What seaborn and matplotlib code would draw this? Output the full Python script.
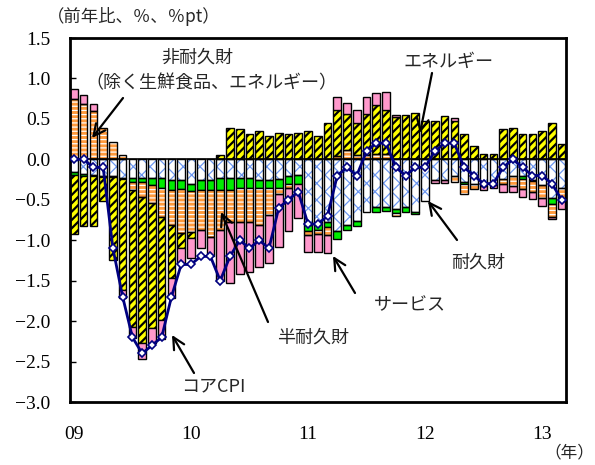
import numpy as np
import matplotlib
matplotlib.use("Agg")
import matplotlib.pyplot as plt
import seaborn as sns

# ---------------- data (contribution, %pt; monthly 2009-01 .. 2013-03) ----------------
year_tick_months = [0, 12, 24, 36, 48]
year_labels = ["09", "10", "11", "12", "13"]

# 耐久財 (blue cross-hatch)
durable = [-0.16, -0.18, -0.19, -0.21, -0.21, -0.23, -0.235, -0.235, -0.235, -0.235,
           -0.25, -0.25, -0.30, -0.25, -0.25, -0.235, -0.235, -0.235, -0.235, -0.255,
           -0.25, -0.24, -0.21, -0.19, -0.81, -0.79, -0.77, -0.88, -0.81, -0.76,
           -0.65, -0.585, -0.59, -0.62, -0.585, -0.65, -0.52, -0.25, -0.26, -0.20,
           -0.28, -0.30, -0.30, -0.30, -0.24, -0.21, -0.21, -0.25, -0.32, -0.48, -0.36]
# 半耐久財 (green)
semidurable = [-0.03, -0.02, -0.02, -0.01, -0.01, -0.01, -0.04, -0.05, -0.08, -0.12,
               -0.13, -0.12, -0.09, -0.13, -0.13, -0.15, -0.14, -0.125, -0.115, -0.105,
               -0.10, -0.11, -0.10, -0.11, -0.08, -0.08, -0.07, -0.11, -0.06, -0.06,
               0.0, -0.06, -0.05, -0.04, -0.06, -0.02, 0.0, 0.0, 0.0, 0.0,
               -0.03, 0.0, 0.0, 0.0, 0.0, 0.0, -0.03, -0.02, 0.0, -0.07, 0.0]
# 非耐久財（除く生鮮食品、エネルギー） (orange, striped)
nondurable = [0.745, 0.68, 0.60, 0.39, 0.21, 0.05, -0.10, -0.18, -0.22, -0.36,
              -0.43, -0.54, -0.51, -0.49, -0.58, -0.49, -0.40, -0.42, -0.42, -0.45,
              -0.34, -0.08, -0.05, 0.0, -0.05, -0.05, -0.09, 0.04, 0.12, 0.05,
              0.05, 0.06, 0.07, -0.04, 0.0, 0.0, 0.0, 0.0, 0.0, -0.08,
              -0.12, -0.07, -0.03, -0.02, -0.07, -0.12, -0.13, -0.14, -0.16, -0.16, -0.16]
# エネルギー (yellow, hatched)
energy = [-0.73, -0.63, -0.61, -0.29, -1.03, -1.37, -1.70, -1.81, -1.55, -1.27,
          -0.66, -0.19, -0.07, 0.0, 0.0, 0.05, 0.39, 0.37, 0.31, 0.35,
          0.29, 0.33, 0.31, 0.33, 0.35, 0.29, 0.45, 0.57, 0.44, 0.40,
          0.51, 0.61, 0.54, 0.52, 0.55, 0.57, 0.47, 0.47, 0.53, 0.47,
          0.31, 0.17, 0.07, 0.07, 0.37, 0.39, 0.31, 0.31, 0.35, 0.45, 0.19]
# サービス (pink)
services = [0.12, 0.115, 0.09, 0.0, 0.0, -0.11, -0.13, -0.19, -0.18, -0.24,
            -0.24, -0.18, -0.25, -0.23, -0.24, -0.635, -0.755, -0.64, -0.62, -0.52,
            -0.59, -0.65, -0.52, -0.43, -0.20, -0.23, -0.23, 0.16, 0.14, 0.16,
            0.21, 0.15, 0.22, 0.03, 0.0, 0.0, 0.0, -0.04, -0.03, 0.04,
            0.0, 0.0, -0.05, -0.03, -0.09, -0.07, -0.09, -0.08, -0.10, -0.03, -0.10]
# コアCPI (前年比, %)
core_cpi = [0.0, 0.0, -0.1, -0.1, -1.1, -1.7, -2.2, -2.4, -2.3, -2.2,
            -1.7, -1.3, -1.3, -1.2, -1.2, -1.5, -1.2, -1.0, -1.1, -1.0,
            -1.1, -0.6, -0.5, -0.4, -0.8, -0.8, -0.7, -0.2, -0.1, -0.2,
            0.1, 0.2, 0.2, -0.1, -0.2, -0.1, -0.1, 0.1, 0.2, 0.2,
            -0.1, -0.2, -0.3, -0.3, -0.1, 0.0, -0.1, -0.2, -0.2, -0.3, -0.5]

# ---------------- style ----------------
sns.set_theme(style="white")
plt.rcParams["font.family"] = ["serif"]
plt.rcParams["font.serif"] = ["Liberation Serif", "DejaVu Serif"]
plt.rcParams["hatch.linewidth"] = 1.0
JP = ["Noto Sans CJK JP", "DejaVu Sans"]
NUM = ["Liberation Serif", "DejaVu Serif"]

W, H, DPI = 595, 465, 100
fig = plt.figure(figsize=(W / DPI, H / DPI), dpi=DPI)
fig.patch.set_facecolor("white")
ax = fig.add_axes([70 / W, (H - 402) / H, 496 / W, 364 / H])
ax.set_facecolor("white")

n = len(core_cpi)
x = np.arange(n)
BW = 0.78
pos_base = np.zeros(n)
neg_base = np.zeros(n)


def stack(vals, face, hatch=None, hatch_color=None, hatch_lw=1.0):
    global pos_base, neg_base
    v = np.asarray(vals, dtype=float)
    bottoms = np.where(v >= 0, pos_base, neg_base)
    m = v != 0
    with plt.rc_context({"hatch.linewidth": hatch_lw}):
        if hatch_color is not None:
            bars = ax.bar(x[m], v[m], bottom=bottoms[m], width=BW, color=face,
                          hatch=hatch, edgecolor=hatch_color, linewidth=0, zorder=2)
            ax.bar(x[m], v[m], bottom=bottoms[m], width=BW, fill=False,
                   edgecolor="black", linewidth=1.0, zorder=3)
        else:
            bars = ax.bar(x[m], v[m], bottom=bottoms[m], width=BW, color=face,
                          hatch=hatch, edgecolor="black", linewidth=1.0, zorder=2)
    for b in bars:
        if hasattr(b, "set_hatch_linewidth"):
            b.set_hatch_linewidth(hatch_lw)
    pos_base = pos_base + np.where(v > 0, v, 0)
    neg_base = neg_base + np.where(v < 0, v, 0)


stack(durable, "white", hatch="xx", hatch_color="#6E98F0", hatch_lw=0.9)
stack(semidurable, "#00EE00")
stack(nondurable, "#FF9A3C", hatch="----", hatch_color="white", hatch_lw=0.9)
stack(energy, "#FFFF00", hatch="////", hatch_lw=1.6)
stack(services, "#FF99CC")

ax.axhline(0, color="black", lw=1.2, zorder=4)

sns.lineplot(x=x, y=core_cpi, ax=ax, color="#000080", lw=2.0, marker="D",
             markersize=4.2, markerfacecolor="white", markeredgecolor="#000080",
             markeredgewidth=1.2, zorder=6)

ax.set_xlim(-0.4, 50.45)
ax.set_ylim(-3.0, 1.5)
ax.set_xlabel("")
ax.set_ylabel("")
yt = np.arange(-3.0, 1.51, 0.5)
ax.set_yticks(yt)
ax.set_yticklabels([f"{t:.1f}".replace("-", "\u2212") for t in yt], fontsize=14,
                   family=NUM)
ax.set_xticks(year_tick_months)
ax.set_xticklabels(year_labels, fontsize=14, family=NUM)
ax.tick_params(axis="y", direction="in", length=4, width=1, pad=14, colors="black", left=True)
ax.tick_params(axis="x", length=0, pad=17, colors="black")
for s in ax.spines.values():
    s.set_linewidth(2.0)
    s.set_color("black")
    s.set_visible(True)
ax.grid(False)


def fp(px, py):
    return (px, H - py)


fig.text(47 / W, 1 - 16 / H, "（前年比、％、％pt）", fontsize=12.5, family=JP,
         ha="left", va="center")
fig.text(594 / W, 1 - 453 / H, "（年）", fontsize=12, family=JP, ha="right", va="center")

labels = [
    ("非耐久財", 197, 58),
    ("（除く生鮮食品、エネルギー）", 211, 83),
    ("エネルギー", 448, 62),
    ("耐久財", 478, 262),
    ("サービス", 410, 305),
    ("半耐久財", 313, 337),
    ("コアCPI", 213, 386),
]
for txt, px, py in labels:
    fig.text(px / W, 1 - py / H, txt, fontsize=13, family=JP, ha="center", va="center")

arrows = [
    ((123, 98), (92, 138)),
    ((432, 73), (420, 133)),
    ((457, 240), (428, 201)),
    ((355, 293), (333, 256)),
    ((268, 322), (221, 212)),
    ((194, 373), (172, 335)),
]
for (sx, sy), (tx, ty) in arrows:
    ax.annotate("", xy=fp(tx, ty), xycoords="figure pixels",
                xytext=fp(sx, sy), textcoords="figure pixels",
                arrowprops=dict(arrowstyle="->,head_length=0.7,head_width=0.35",
                                color="black", lw=1.6, shrinkA=0, shrinkB=0),
                zorder=7)

fig.savefig("out.png", dpi=DPI)
